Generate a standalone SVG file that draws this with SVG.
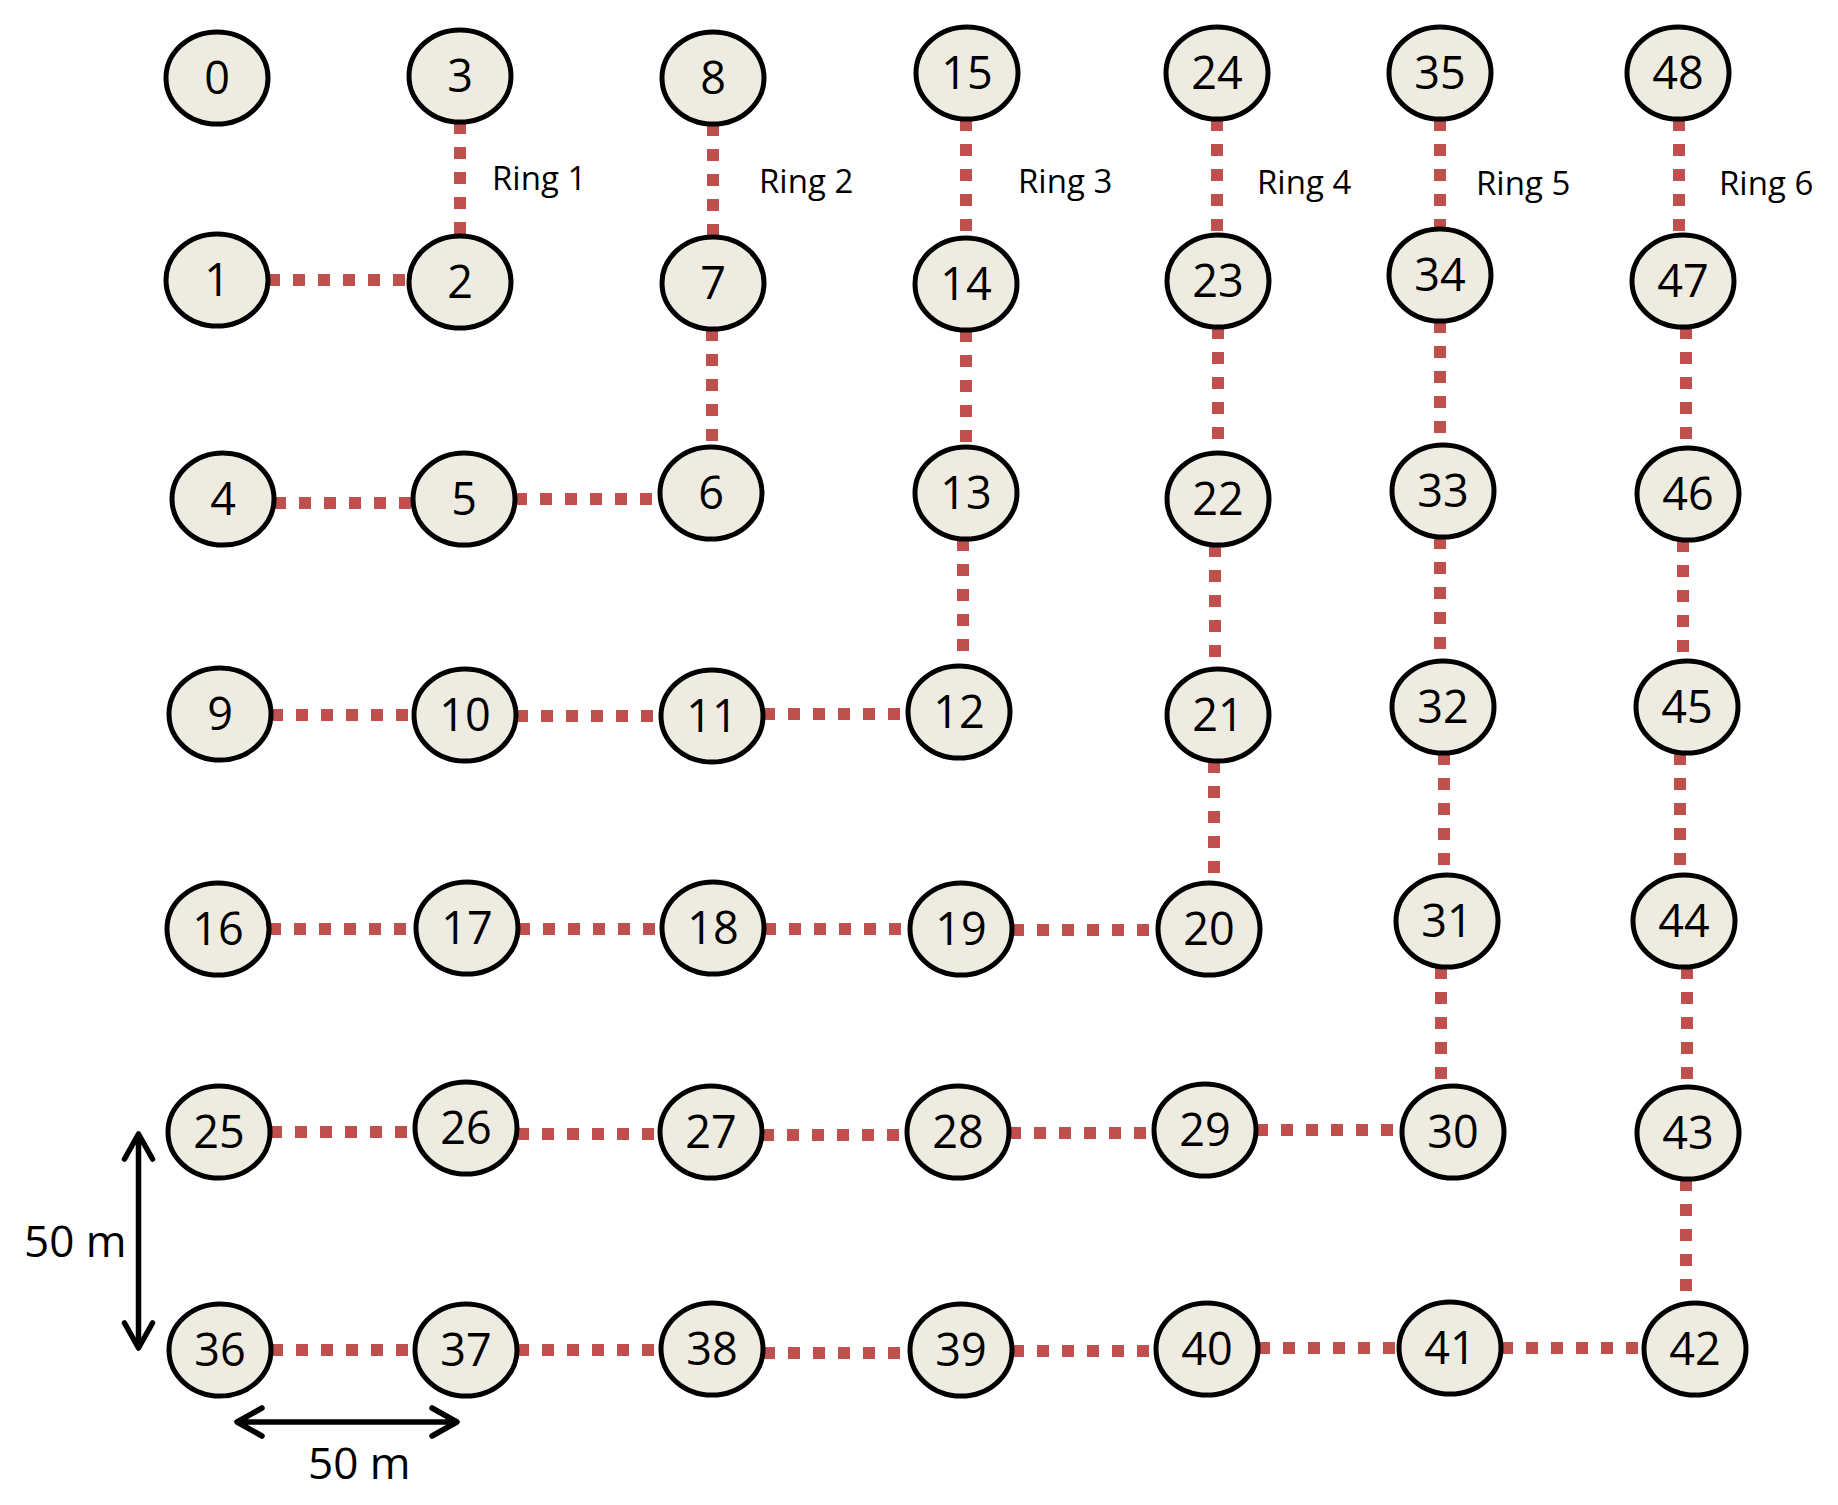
<svg xmlns="http://www.w3.org/2000/svg" width="1838" height="1505" viewBox="0 0 1838 1505">
<style>
.n ellipse{fill:#EEECE1;stroke:#000;stroke-width:5}
.n text{font-family:"Open Sans","Liberation Sans",sans-serif;font-size:45px;text-anchor:middle;fill:#000}
.e path{fill:none;stroke:#C0504D;stroke-width:12;stroke-dasharray:12 13}
.lbl{font-family:"Open Sans","Liberation Sans",sans-serif;font-size:33px;fill:#000}
.dim{font-family:"Open Sans","Liberation Sans",sans-serif;font-size:44px;fill:#000}
.arr{fill:none;stroke:#000;stroke-width:5.5;stroke-linecap:round;stroke-linejoin:round}
</style>
<rect width="1838" height="1505" fill="#fff"/>
<g id="connectors" class="e">
<path d="M460 122V236"/>
<path d="M268 280H409"/>
<path d="M713 124V237"/>
<path d="M712 329V447"/>
<path d="M274 503H413"/>
<path d="M515 499H660"/>
<path d="M966 119V238"/>
<path d="M966 330V447"/>
<path d="M963 539V666"/>
<path d="M271 715H414"/>
<path d="M516 716H661"/>
<path d="M763 714H908"/>
<path d="M1217 119V235"/>
<path d="M1218 327V453"/>
<path d="M1215 545V669"/>
<path d="M1214 761V883"/>
<path d="M269 929H416"/>
<path d="M518 929H662"/>
<path d="M764 929H910"/>
<path d="M1012 930H1158"/>
<path d="M1440 119V229"/>
<path d="M1440 321V445"/>
<path d="M1440 537V661"/>
<path d="M1444 753V875"/>
<path d="M1441 967V1086"/>
<path d="M270 1132H415"/>
<path d="M517 1134H660"/>
<path d="M762 1135H907"/>
<path d="M1009 1133H1154"/>
<path d="M1256 1130H1402"/>
<path d="M1679 119V235"/>
<path d="M1686 327V448"/>
<path d="M1683 540V661"/>
<path d="M1680 753V875"/>
<path d="M1687 967V1087"/>
<path d="M1686 1179V1303"/>
<path d="M271 1350H415"/>
<path d="M517 1350H661"/>
<path d="M763 1353H910"/>
<path d="M1012 1351H1156"/>
<path d="M1258 1348H1399"/>
<path d="M1501 1348H1644"/>
</g>
<g id="n0" class="n"><ellipse cx="217" cy="78" rx="51" ry="46"/><text x="217" y="94">0</text></g>
<g id="n3" class="n"><ellipse cx="460" cy="76" rx="51" ry="46"/><text x="460" y="92">3</text></g>
<g id="n8" class="n"><ellipse cx="713" cy="78" rx="51" ry="46"/><text x="713" y="94">8</text></g>
<g id="n15" class="n"><ellipse cx="967" cy="73" rx="51" ry="46"/><text x="967" y="89">15</text></g>
<g id="n24" class="n"><ellipse cx="1217" cy="73" rx="51" ry="46"/><text x="1217" y="89">24</text></g>
<g id="n35" class="n"><ellipse cx="1440" cy="73" rx="51" ry="46"/><text x="1440" y="89">35</text></g>
<g id="n48" class="n"><ellipse cx="1678" cy="73" rx="51" ry="46"/><text x="1678" y="89">48</text></g>
<g id="n1" class="n"><ellipse cx="217" cy="280" rx="51" ry="46"/><text x="217" y="296">1</text></g>
<g id="n2" class="n"><ellipse cx="460" cy="282" rx="51" ry="46"/><text x="460" y="298">2</text></g>
<g id="n7" class="n"><ellipse cx="713" cy="283" rx="51" ry="46"/><text x="713" y="299">7</text></g>
<g id="n14" class="n"><ellipse cx="966" cy="284" rx="51" ry="46"/><text x="966" y="300">14</text></g>
<g id="n23" class="n"><ellipse cx="1218" cy="281" rx="51" ry="46"/><text x="1218" y="297">23</text></g>
<g id="n34" class="n"><ellipse cx="1440" cy="275" rx="51" ry="46"/><text x="1440" y="291">34</text></g>
<g id="n47" class="n"><ellipse cx="1683" cy="281" rx="51" ry="46"/><text x="1683" y="297">47</text></g>
<g id="n4" class="n"><ellipse cx="223" cy="499" rx="51" ry="46"/><text x="223" y="515">4</text></g>
<g id="n5" class="n"><ellipse cx="464" cy="499" rx="51" ry="46"/><text x="464" y="515">5</text></g>
<g id="n6" class="n"><ellipse cx="711" cy="493" rx="51" ry="46"/><text x="711" y="509">6</text></g>
<g id="n13" class="n"><ellipse cx="966" cy="493" rx="51" ry="46"/><text x="966" y="509">13</text></g>
<g id="n22" class="n"><ellipse cx="1218" cy="499" rx="51" ry="46"/><text x="1218" y="515">22</text></g>
<g id="n33" class="n"><ellipse cx="1443" cy="491" rx="51" ry="46"/><text x="1443" y="507">33</text></g>
<g id="n46" class="n"><ellipse cx="1688" cy="494" rx="51" ry="46"/><text x="1688" y="510">46</text></g>
<g id="n9" class="n"><ellipse cx="220" cy="714" rx="51" ry="46"/><text x="220" y="730">9</text></g>
<g id="n10" class="n"><ellipse cx="465" cy="715" rx="51" ry="46"/><text x="465" y="731">10</text></g>
<g id="n11" class="n"><ellipse cx="712" cy="716" rx="51" ry="46"/><text x="712" y="732">11</text></g>
<g id="n12" class="n"><ellipse cx="959" cy="712" rx="51" ry="46"/><text x="959" y="728">12</text></g>
<g id="n21" class="n"><ellipse cx="1218" cy="715" rx="51" ry="46"/><text x="1218" y="731">21</text></g>
<g id="n32" class="n"><ellipse cx="1443" cy="707" rx="51" ry="46"/><text x="1443" y="723">32</text></g>
<g id="n45" class="n"><ellipse cx="1687" cy="707" rx="51" ry="46"/><text x="1687" y="723">45</text></g>
<g id="n16" class="n"><ellipse cx="218" cy="929" rx="51" ry="46"/><text x="218" y="945">16</text></g>
<g id="n17" class="n"><ellipse cx="467" cy="928" rx="51" ry="46"/><text x="467" y="944">17</text></g>
<g id="n18" class="n"><ellipse cx="713" cy="928" rx="51" ry="46"/><text x="713" y="944">18</text></g>
<g id="n19" class="n"><ellipse cx="961" cy="929" rx="51" ry="46"/><text x="961" y="945">19</text></g>
<g id="n20" class="n"><ellipse cx="1209" cy="929" rx="51" ry="46"/><text x="1209" y="945">20</text></g>
<g id="n31" class="n"><ellipse cx="1447" cy="921" rx="51" ry="46"/><text x="1447" y="937">31</text></g>
<g id="n44" class="n"><ellipse cx="1684" cy="921" rx="51" ry="46"/><text x="1684" y="937">44</text></g>
<g id="n25" class="n"><ellipse cx="219" cy="1132" rx="51" ry="46"/><text x="219" y="1148">25</text></g>
<g id="n26" class="n"><ellipse cx="466" cy="1128" rx="51" ry="46"/><text x="466" y="1144">26</text></g>
<g id="n27" class="n"><ellipse cx="711" cy="1132" rx="51" ry="46"/><text x="711" y="1148">27</text></g>
<g id="n28" class="n"><ellipse cx="958" cy="1132" rx="51" ry="46"/><text x="958" y="1148">28</text></g>
<g id="n29" class="n"><ellipse cx="1205" cy="1130" rx="51" ry="46"/><text x="1205" y="1146">29</text></g>
<g id="n30" class="n"><ellipse cx="1453" cy="1132" rx="51" ry="46"/><text x="1453" y="1148">30</text></g>
<g id="n43" class="n"><ellipse cx="1688" cy="1133" rx="51" ry="46"/><text x="1688" y="1149">43</text></g>
<g id="n36" class="n"><ellipse cx="220" cy="1350" rx="51" ry="46"/><text x="220" y="1366">36</text></g>
<g id="n37" class="n"><ellipse cx="466" cy="1350" rx="51" ry="46"/><text x="466" y="1366">37</text></g>
<g id="n38" class="n"><ellipse cx="712" cy="1349" rx="51" ry="46"/><text x="712" y="1365">38</text></g>
<g id="n39" class="n"><ellipse cx="961" cy="1350" rx="51" ry="46"/><text x="961" y="1366">39</text></g>
<g id="n40" class="n"><ellipse cx="1207" cy="1349" rx="51" ry="46"/><text x="1207" y="1365">40</text></g>
<g id="n41" class="n"><ellipse cx="1450" cy="1348" rx="51" ry="46"/><text x="1450" y="1364">41</text></g>
<g id="n42" class="n"><ellipse cx="1695" cy="1349" rx="51" ry="46"/><text x="1695" y="1365">42</text></g>
<g id="labels">
<text class="lbl" x="492" y="190">Ring 1</text>
<text class="lbl" x="759" y="193">Ring 2</text>
<text class="lbl" x="1018" y="193">Ring 3</text>
<text class="lbl" x="1257" y="194">Ring 4</text>
<text class="lbl" x="1476" y="195">Ring 5</text>
<text class="lbl" x="1719" y="195">Ring 6</text>
</g>
<g id="scale">
<path class="arr" d="M138.5 1136V1346M124.5 1159L138.5 1134L152.5 1159M124.5 1323L138.5 1348L152.5 1323"/>
<path class="arr" d="M239 1422H455M262 1408L237 1422L262 1436M432 1408L457 1422L432 1436"/>
<text class="dim" x="24" y="1257">50 m</text>
<text class="dim" x="308" y="1479">50 m</text>
</g>
</svg>
